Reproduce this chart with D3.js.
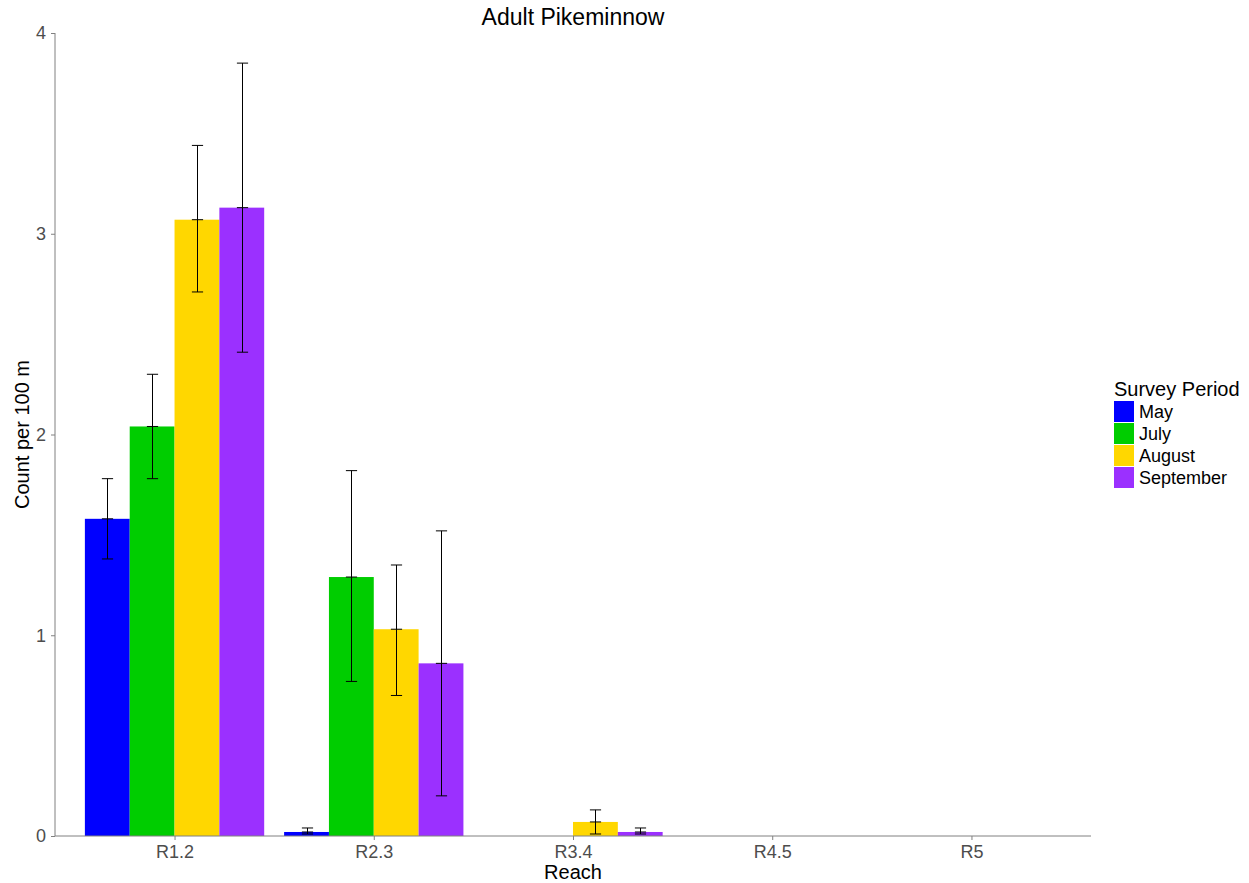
<!DOCTYPE html>
<html>
<head>
<meta charset="utf-8">
<script src="https://cdn.jsdelivr.net/npm/d3@7"></script>
<style>
  html, body { margin: 0; padding: 0; background: #fff; }
  svg { display: block; font-family: "Liberation Sans", Arial, sans-serif; }
</style>
</head>
<body>
<svg id="chart" width="1249" height="883"></svg>
<script>
const reaches = ["R1.2", "R2.3", "R3.4", "R4.5", "R5"];
const periods = ["May", "July", "August", "September"];
const colors = ["#0000FF", "#00CD00", "#FFD700", "#9B30FF"];
// mean counts per 100 m, one array per survey period (ordered by reach)
const mayMean = [1.58, 0.02, 0, 0, 0];
const julyMean = [2.04, 1.29, 0, 0, 0];
const augustMean = [3.07, 1.03, 0.07, 0, 0];
const septemberMean = [3.13, 0.86, 0.02, 0, 0];
// error bar lower / upper limits
const mayLow = [1.38, 0.01, 0, 0, 0];
const mayHigh = [1.78, 0.04, 0, 0, 0];
const julyLow = [1.78, 0.77, 0, 0, 0];
const julyHigh = [2.30, 1.82, 0, 0, 0];
const augustLow = [2.71, 0.70, 0.01, 0, 0];
const augustHigh = [3.44, 1.35, 0.13, 0, 0];
const septemberLow = [2.41, 0.20, 0.01, 0, 0];
const septemberHigh = [3.85, 1.52, 0.04, 0, 0];
const yTicks = [0, 1, 2, 3, 4];

const means = [mayMean, julyMean, augustMean, septemberMean];
const lows = [mayLow, julyLow, augustLow, septemberLow];
const highs = [mayHigh, julyHigh, augustHigh, septemberHigh];

const rows = [];
reaches.forEach((r, i) => {
  periods.forEach((p, j) => {
    rows.push({ reach: r, period: p, mean: means[j][i], low: lows[j][i], high: highs[j][i], color: colors[j] });
  });
});

const svg = d3.select("#chart");
const pLeft = 55, pRight = 1091, pTop = 33, pBottom = 836;

// discrete axis with ggplot-style 0.6 expansion
const step = (pRight - pLeft) / (reaches.length - 1 + 1.2);
const x = d3.scalePoint().domain(reaches).range([pLeft + 0.6 * step, pRight - 0.6 * step]);
const groupW = 0.9 * step;
const xInner = d3.scaleBand().domain(periods).range([-groupW / 2, groupW / 2]).padding(0);
const y = d3.scaleLinear().domain([0, 4]).range([pBottom, pTop]);

// bars
svg.append("g").selectAll("rect").data(rows.filter(d => d.mean > 0)).join("rect")
  .attr("x", d => x(d.reach) + xInner(d.period))
  .attr("y", d => y(d.mean))
  .attr("width", xInner.bandwidth())
  .attr("height", d => y(0) - y(d.mean))
  .attr("fill", d => d.color);

// error bars (mean to high, mean to low, caps at each end and at mean)
const capW = xInner.bandwidth() * 0.25;
const eb = svg.append("g").attr("stroke", "#000").attr("stroke-width", 1).attr("fill", "none");
rows.filter(d => d.high > 0).forEach(d => {
  const cx = Math.round(x(d.reach) + xInner(d.period) + xInner.bandwidth() / 2) + 0.5;
  eb.append("line").attr("x1", cx).attr("x2", cx).attr("y1", y(d.high)).attr("y2", y(d.low));
  [d.high, d.mean, d.low].forEach(v => {
    eb.append("line").attr("x1", cx - capW / 2).attr("x2", cx + capW / 2).attr("y1", y(v)).attr("y2", y(v));
  });
});

// axes
const axisColor = "#808080";
const yAxis = svg.append("g").attr("transform", `translate(${pLeft},0)`)
  .call(d3.axisLeft(y).tickValues(yTicks).tickSize(4).tickPadding(5).tickFormat(d3.format("d")));
yAxis.select(".domain").attr("stroke", axisColor).attr("d", `M0,${pTop}V${pBottom}`);
yAxis.selectAll(".tick line").attr("stroke", axisColor);
yAxis.selectAll("text").attr("fill", "#4d4d4d").style("font-size", "18px");

const xAxis = svg.append("g").attr("transform", `translate(0,${pBottom})`)
  .call(d3.axisBottom(x).tickSize(4).tickPadding(5));
xAxis.select(".domain").attr("stroke", axisColor).attr("d", `M${pLeft},0H${pRight}`);
xAxis.selectAll(".tick line").attr("stroke", axisColor);
xAxis.selectAll("text").attr("fill", "#4d4d4d").style("font-size", "18px");

// titles
svg.append("text").attr("x", (pLeft + pRight) / 2).attr("y", 25).attr("text-anchor", "middle")
  .style("font-size", "23px").attr("fill", "#000").text("Adult Pikeminnow");
svg.append("text").attr("x", (pLeft + pRight) / 2).attr("y", 879).attr("text-anchor", "middle")
  .style("font-size", "20px").attr("fill", "#000").text("Reach");
svg.append("text").attr("transform", `translate(29,${(pTop + pBottom) / 2}) rotate(-90)`).attr("text-anchor", "middle")
  .style("font-size", "20px").attr("fill", "#000").text("Count per 100 m");

// legend
const lg = svg.append("g").attr("transform", "translate(1114,0)");
lg.append("text").attr("x", 0).attr("y", 396).style("font-size", "20px").attr("fill", "#000").text("Survey Period");
periods.forEach((p, j) => {
  const yy = 401 + j * 22;
  lg.append("rect").attr("x", 0).attr("y", yy).attr("width", 20).attr("height", 21).attr("fill", colors[j]);
  lg.append("text").attr("x", 25).attr("y", yy + 16.5).style("font-size", "18px").attr("fill", "#000").text(p);
});
</script>
</body>
</html>
